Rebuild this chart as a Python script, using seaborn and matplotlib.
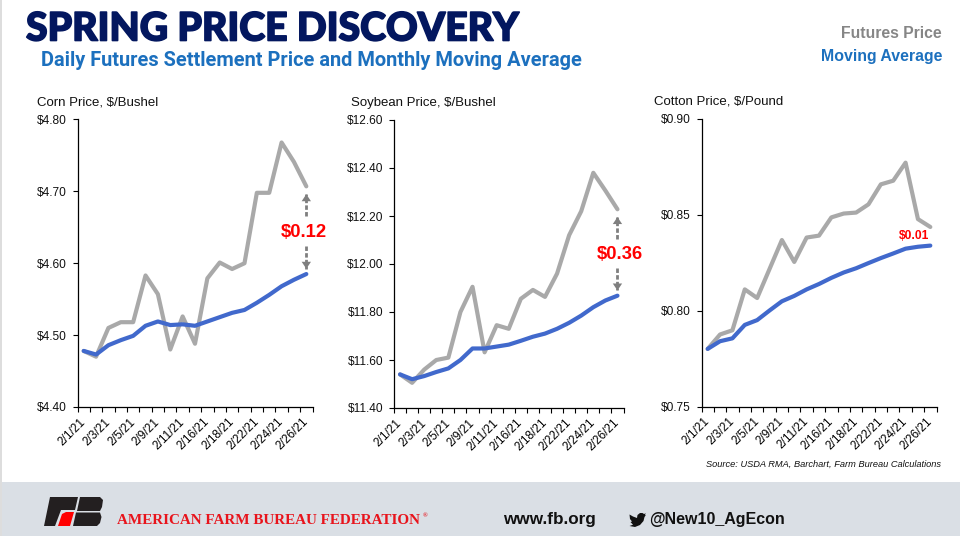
import matplotlib
matplotlib.use("Agg")
import matplotlib.pyplot as plt
import matplotlib.patheffects as pe
from matplotlib.patches import Polygon, Rectangle
import pandas as pd
import seaborn as sns

DATES = ["2/1/21", "2/2/21", "2/3/21", "2/4/21", "2/5/21", "2/8/21", "2/9/21", "2/10/21", "2/11/21", "2/12/21",
         "2/16/21", "2/17/21", "2/18/21", "2/19/21", "2/22/21", "2/23/21", "2/24/21", "2/25/21", "2/26/21"]

CORN_FUT = [4.478, 4.470, 4.510, 4.518, 4.518, 4.583, 4.557, 4.480, 4.526, 4.488,
            4.579, 4.601, 4.592, 4.600, 4.698, 4.698, 4.768, 4.741, 4.707]
CORN_AVG = [4.478, 4.473, 4.486, 4.493, 4.499, 4.513, 4.519, 4.514, 4.515, 4.513,
            4.519, 4.525, 4.531, 4.535, 4.545, 4.556, 4.568, 4.577, 4.585]
SOY_FUT = [11.540, 11.505, 11.560, 11.600, 11.610, 11.800, 11.905, 11.632, 11.745, 11.730,
           11.855, 11.892, 11.863, 11.960, 12.120, 12.220, 12.380, 12.306, 12.228]
SOY_AVG = [11.540, 11.520, 11.533, 11.550, 11.565, 11.600, 11.648, 11.648, 11.656, 11.664,
           11.680, 11.697, 11.710, 11.730, 11.755, 11.785, 11.820, 11.848, 11.868]
COTTON_FUT = [0.7800, 0.7875, 0.7897, 0.8110, 0.8065, 0.8216, 0.8367, 0.8253, 0.8380, 0.8390,
              0.8485, 0.8505, 0.8510, 0.8553, 0.8657, 0.8676, 0.8770, 0.8476, 0.8435]
COTTON_AVG = [0.7800, 0.7840, 0.7855, 0.7925, 0.7950, 0.8000, 0.8048, 0.8076, 0.8110, 0.8138,
              0.8170, 0.8198, 0.8220, 0.8247, 0.8273, 0.8297, 0.8322, 0.8332, 0.8338]

GRAY = "#A9A9A9"
BLUE = "#4169CC"
NAVY = "#03175F"
SUB_BLUE = "#1C70BE"
RED = "#FF0000"
ARROW = "#7F7F7F"
INK = "#111111"
W, H = 960, 536


def px_axes(fig, x0, x1, top, bottom):
    return fig.add_axes([x0 / W, 1 - bottom / H, (x1 - x0) / W, (bottom - top) / H])


def draw_arrow(ax, start, end):
    # dashed stem plus a short solid head
    ax.plot([18, 18], [start, end], color=ARROW, linewidth=2, linestyle=(0, (1.6, 0.8)), zorder=3)
    ax.annotate("", xy=(18, end), xytext=(18, end - (end - start) * 0.3),
                arrowprops=dict(arrowstyle="-|>,head_width=0.28,head_length=0.42", color=ARROW,
                                linewidth=0, shrinkA=0, shrinkB=0))


def draw_panel(fig, box, title, title_px, fut, avg, ymin, ymax, yticks, label_x, big_label):
    ax = px_axes(fig, *box)
    df = pd.DataFrame({
        "date": DATES * 2,
        "price": fut + avg,
        "series": ["Futures Price"] * len(fut) + ["Moving Average"] * len(avg),
    })
    sns.lineplot(data=df, x="date", y="price", hue="series", sort=False, legend=False,
                 palette={"Futures Price": GRAY, "Moving Average": BLUE}, linewidth=3,
                 solid_capstyle="round", ax=ax)
    ax.set_xlim(-0.5, len(DATES) - 0.5)
    ax.set_ylim(ymin, ymax)
    ax.set_yticks(yticks)
    ax.set_yticklabels([f"${v:.2f}" for v in yticks], fontsize=8.6, color=INK)
    ax.set_xticks(range(0, len(DATES), 2))
    ax.set_xticklabels(DATES[::2], rotation=45, ha="right", va="center", rotation_mode="anchor",
                       fontsize=8.6, color="black")
    ax.set_xticks([i - 0.5 for i in range(len(DATES) + 1)], minor=True)
    ax.tick_params(axis="x", which="major", bottom=False, pad=3.5)
    ax.tick_params(axis="x", which="minor", bottom=True, length=3.5, width=0.8, color="black")
    ax.tick_params(axis="y", left=True, length=3.5, width=0.8, color="black", pad=4.5)
    ax.set_xlabel("")
    ax.set_ylabel("")
    ax.spines["top"].set_visible(False)
    ax.spines["right"].set_visible(False)
    for side in ["left", "bottom"]:
        ax.spines[side].set_color("black")
        ax.spines[side].set_linewidth(0.9)
    ax.grid(False)
    ax.patch.set_alpha(0)

    fig.text(title_px / W, 1 - (box[2] - 17) / H, title, fontsize=9.5, color=INK, va="center")

    gap = fut[-1] - avg[-1]
    mid = (fut[-1] + avg[-1]) / 2
    if big_label:
        ax.text(label_x, mid - 0.025 * gap, f"${gap:.2f}", color=RED, fontsize=13.3, fontweight="bold",
                ha="center", va="center")
        draw_arrow(ax, mid + 0.16 * gap, fut[-1] - 0.09 * gap)
        draw_arrow(ax, mid - 0.18 * gap, avg[-1] + 0.06 * gap)
    else:
        ax.text(label_x, avg[-1] + 0.0052, f"${gap:.2f}", color=RED, fontsize=8.7, fontweight="bold",
                ha="center", va="center")
    return ax


def draw_footer(fig):
    bg = fig.add_axes([0, 0, 1, 1], zorder=-1)
    bg.set_xlim(0, W)
    bg.set_ylim(H, 0)
    bg.axis("off")
    bg.add_patch(Rectangle((0, 482), W, 54, color="#DADFE5", lw=0))
    bg.add_patch(Rectangle((0, 0), 2, H, color="#DDDDDD", lw=0))

    # FB logo, roughly traced
    black = "#231F20"
    bg.add_patch(Polygon([(44, 526), (50, 497), (78, 497), (75, 510), (61, 510), (55, 526)], color=black, lw=0))
    bg.add_patch(Polygon([(58, 526), (62, 514), (66, 512), (74, 512), (70, 526)], color=RED, lw=0))
    bg.add_patch(Polygon([(80, 497), (100, 497), (103, 500), (102, 507), (100, 511), (77, 511)], color=black, lw=0))
    bg.add_patch(Polygon([(76, 512.5), (100, 512.5), (101.5, 517), (100, 523), (97, 526), (73, 526)],
                         color=black, lw=0))
    bg.text(117, 520, "AMERICAN FARM BUREAU FEDERATION", family="Liberation Serif", fontsize=10.9,
            fontweight="bold", color="#E8141C", va="center")
    bg.text(422.5, 516, "®", family="Liberation Serif", fontsize=4.5, fontweight="bold", color="#E8141C",
            va="center")

    bg.text(503, 519.5, "www.fb.org", family="Liberation Sans", fontsize=12.3, fontweight="bold",
            color=INK, va="center")
    # twitter bird
    bg.add_patch(Polygon([(629.5, 514.5), (633, 516.5), (637, 518), (637.5, 515), (640, 513), (642.5, 513),
                          (644, 514), (645.8, 513.3), (645, 515), (645.8, 515.2), (644.5, 517), (643.5, 521),
                          (640, 525), (635, 527), (629.5, 526), (633, 524.7), (630.5, 522), (632, 521.5),
                          (630, 519)], color=INK, lw=0))
    bg.text(649, 519.5, "@New10_AgEcon", family="Liberation Sans", fontsize=11.5, fontweight="bold",
            color=INK, va="center")


sns.set_theme(style="white")
plt.rcParams["font.family"] = ["Liberation Sans", "DejaVu Sans"]

fig = plt.figure(figsize=(W / 100, H / 100), dpi=100, facecolor="white")
draw_footer(fig)

draw_panel(fig, (77.5, 312.5, 119.5, 407), "Corn Price, $/Bushel", 37, CORN_FUT, CORN_AVG,
           4.40, 4.80, [4.40, 4.50, 4.60, 4.70, 4.80], 17.8, True)
draw_panel(fig, (394, 623.5, 120, 408), "Soybean Price, $/Bushel", 351, SOY_FUT, SOY_AVG,
           11.40, 12.60, [11.40, 11.60, 11.80, 12.00, 12.20, 12.40, 12.60], 18.2, True)
draw_panel(fig, (701.5, 936.5, 118.5, 406.5), "Cotton Price, $/Pound", 654, COTTON_FUT, COTTON_AVG,
           0.75, 0.90, [0.75, 0.80, 0.85, 0.90], 16.66, False)

title = fig.text(26 / W, 1 - 29 / H, "SPRING PRICE DISCOVERY", family="Lato", fontweight=900, fontsize=28.2,
                 color=NAVY, va="center")
title.set_path_effects([pe.withStroke(linewidth=1.2, foreground=NAVY)])
fig.text(41 / W, 1 - 61 / H, "Daily Futures Settlement Price and Monthly Moving Average", family="Roboto",
         fontweight="bold", fontsize=14.4, color=SUB_BLUE, va="center")
fig.text(942 / W, 1 - 34 / H, "Futures Price", fontsize=11.3, fontweight="bold", color="#868686",
         ha="right", va="center")
fig.text(942 / W, 1 - 56 / H, "Moving Average", fontsize=11.4, fontweight="bold", color=SUB_BLUE,
         ha="right", va="center")
fig.text(941 / W, 1 - 464 / H, "Source: USDA RMA, Barchart, Farm Bureau Calculations", fontsize=6.7,
         style="italic", color=INK, ha="right", va="center")

fig.savefig("out.png", dpi=100)
